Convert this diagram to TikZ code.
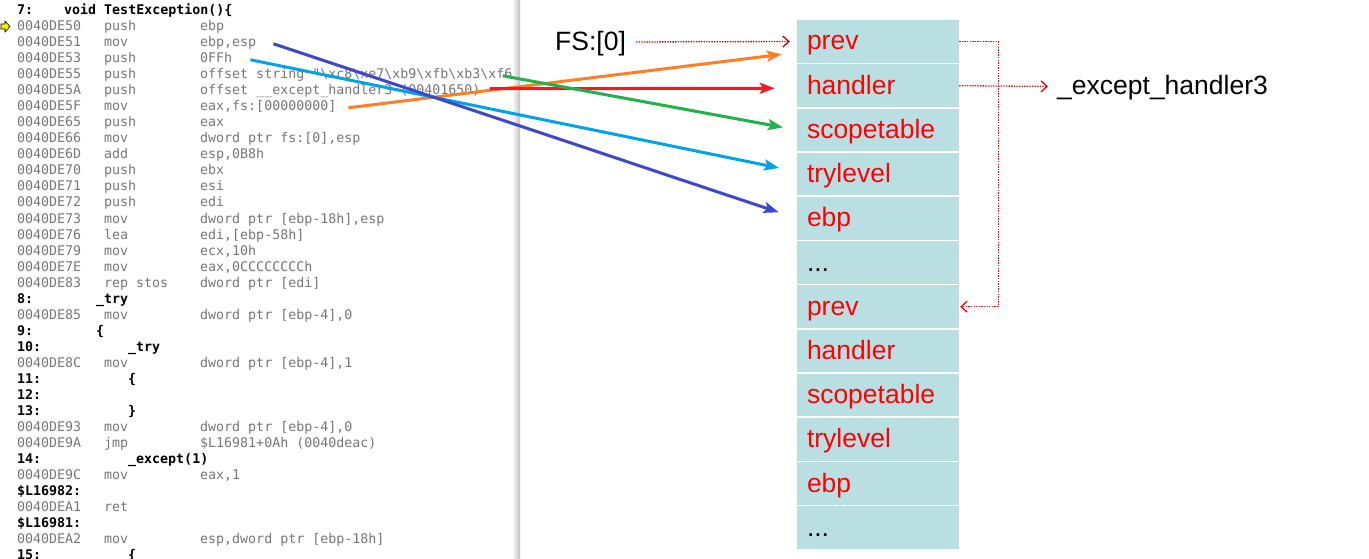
\documentclass[tikz,border=0pt]{standalone}
\usepackage{fontspec}
\setmainfont{Liberation Sans}
\newfontfamily\codefont{DejaVu Sans Mono}
\usetikzlibrary{arrows.meta}
\definecolor{cellblue}{RGB}{185,223,227}
\definecolor{codegray}{RGB}{118,118,118}
\definecolor{darkred}{RGB}{192,0,0}
\definecolor{pOrange}{RGB}{255,127,39}
\definecolor{pRed}{RGB}{237,28,36}
\definecolor{pGreen}{RGB}{34,177,76}
\definecolor{pCyan}{RGB}{0,162,232}
\definecolor{pIndigo}{RGB}{63,72,204}
\newcommand{\bs}{\textbackslash}
\newcommand{\stkdots}{...}

\begin{document}
\begin{tikzpicture}[x=1pt,y=-1pt,
  asm/.style={anchor=base west,inner sep=0pt,text=codegray,text height=9.5pt,text depth=3pt,font=\codefont\fontsize{13.3}{16}\selectfont},
  src/.style={asm,text=black,font=\codefont\bfseries\fontsize{13.3}{16}\selectfont},
  cell/.style={fill=cellblue,text=red,minimum height=42.5pt,text width=142pt,inner xsep=10pt,inner ysep=0pt,text height=23pt,text depth=6pt,font=\fontsize{26.5}{30}\selectfont},
  lbl/.style={anchor=base west,inner sep=0pt,text height=23pt,text depth=6pt,font=\fontsize{26.5}{30}\selectfont},
  arr/.style={line width=3pt,-{Stealth[length=15pt,width=11pt,inset=3pt]},shorten >=17pt},
  link/.style={red,line width=1.3pt,dash pattern=on 1.3pt off 1.3pt,-{Straight Barb[length=6pt,width=11pt]}}]

      \fill[white] (0,0) rectangle (1369,559);
      \useasboundingbox (0,0) rectangle (1369,559);

      %%code window
      \begin{scope}
      \clip (0,0) rectangle (518,559);
      \foreach \k/\ad/\mn/\op in {
          2/0040DE50/push/ebp, 3/0040DE51/mov/{ebp,esp}, 4/0040DE53/push/0FFh,
          5/0040DE55/push/{offset string "\bs xc8\bs xe7\bs xb9\bs xfb\bs xb3\bs xf6\bs},
          6/0040DE5A/push/{offset \_\_except\_handler3 (00401650)},
          7/0040DE5F/mov/{eax,fs:[00000000]}, 8/0040DE65/push/eax,
          9/0040DE66/mov/{dword ptr fs:[0],esp}, 10/0040DE6D/add/{esp,0B8h},
          11/0040DE70/push/ebx, 12/0040DE71/push/esi, 13/0040DE72/push/edi,
          14/0040DE73/mov/{dword ptr [ebp-18h],esp}, 15/0040DE76/lea/{edi,[ebp-58h]},
          16/0040DE79/mov/{ecx,10h}, 17/0040DE7E/mov/{eax,0CCCCCCCCh},
          18/0040DE83/rep stos/{dword ptr [edi]}, 20/0040DE85/mov/{dword ptr [ebp-4],0},
          23/0040DE8C/mov/{dword ptr [ebp-4],1}, 27/0040DE93/mov/{dword ptr [ebp-4],0},
          28/0040DE9A/jmp/{\$L16981+0Ah (0040deac)}, 30/0040DE9C/mov/{eax,1},
          32/0040DEA1/ret/{}, 34/0040DEA2/mov/{esp,dword ptr [ebp-18h]}}
      {
        \node[asm] (ad\k) at (17,{16*\k-1}) {\ad};
        \node[asm] (mn\k) at (104,{16*\k-1}) {\mn};
        \node[asm] (op\k) at (200,{16*\k-1}) {\op};
      }
      \foreach \k/\num in {1/7:, 19/8:, 21/9:, 22/10:, 24/11:, 25/12:, 26/13:, 29/14:,
          31/{\$L16982:}, 33/{\$L16981:}, 35/15:}
        \node[src] (ln\k) at (17,{16*\k-1}) {\num};
      \foreach \k/\x/\txt in {1/64/{void TestException()\{}, 19/96/\_try, 21/96/\{,
          22/128/\_try, 24/128/\{, 26/128/\}, 29/128/{\_except(1)}, 35/128/\{}
        \node[src] (tx\k) at (\x,{16*\k-1}) {\txt};
      \end{scope}

      %%current line marker
      \draw[fill=yellow,line width=0.6pt] (1,24) -- (5,24) -- (5,21) -- (10,26.5) -- (5,32) -- (5,29) -- (1,29) -- cycle;
      \shade[left color=white,right color=black!25] (512,0) rectangle (520,559);

      %%stack
      \foreach \i/\t/\c in {1/prev/red, 2/handler/red, 3/scopetable/red, 4/trylevel/red,
          5/ebp/red, 6/\stkdots/black, 7/prev/red, 8/handler/red, 9/scopetable/red,
          10/trylevel/red, 11/ebp/red, 12/\stkdots/black}
        \node[cell,text=\c] (s\i) at (878,{41.5+44.2*(\i-1)}) {\t};

      \node[lbl] (fs) at (555,50.5) {FS:[0]};
      \node[lbl] (eh) at (1057,95) {\_except\_handler3};

      \draw[link,darkred,shorten <=10pt,shorten >=7pt] (fs.east) -- (s1.west);
      \draw[link,shorten >=9pt] (s2.east) -- (eh.west);
      \draw[link,shorten >=1pt] (s1.east) -- ++(39,0) |- (s7.east);

      %%instructions -> fields
      \draw[arr,pOrange,shorten >=15pt] ([xshift=12pt]op7.east) -- ([yshift=-11pt]s1.west);
      \draw[arr,pRed,shorten >=22pt] ([xshift=9pt,yshift=3pt]op6.east) -- ([yshift=-2.5pt]s2.west);
      \draw[arr,pGreen,shorten >=14pt] ([xshift=-18pt]op5.east) -- (s3.west);
      \draw[arr,pCyan,shorten >=18pt] ([xshift=18pt]op4.east) -- ([yshift=2.5pt]s4.west);
      \draw[arr,pIndigo,shorten >=19pt] ([xshift=17pt]op3.east) -- (s5.west);

\end{tikzpicture}
\end{document}
